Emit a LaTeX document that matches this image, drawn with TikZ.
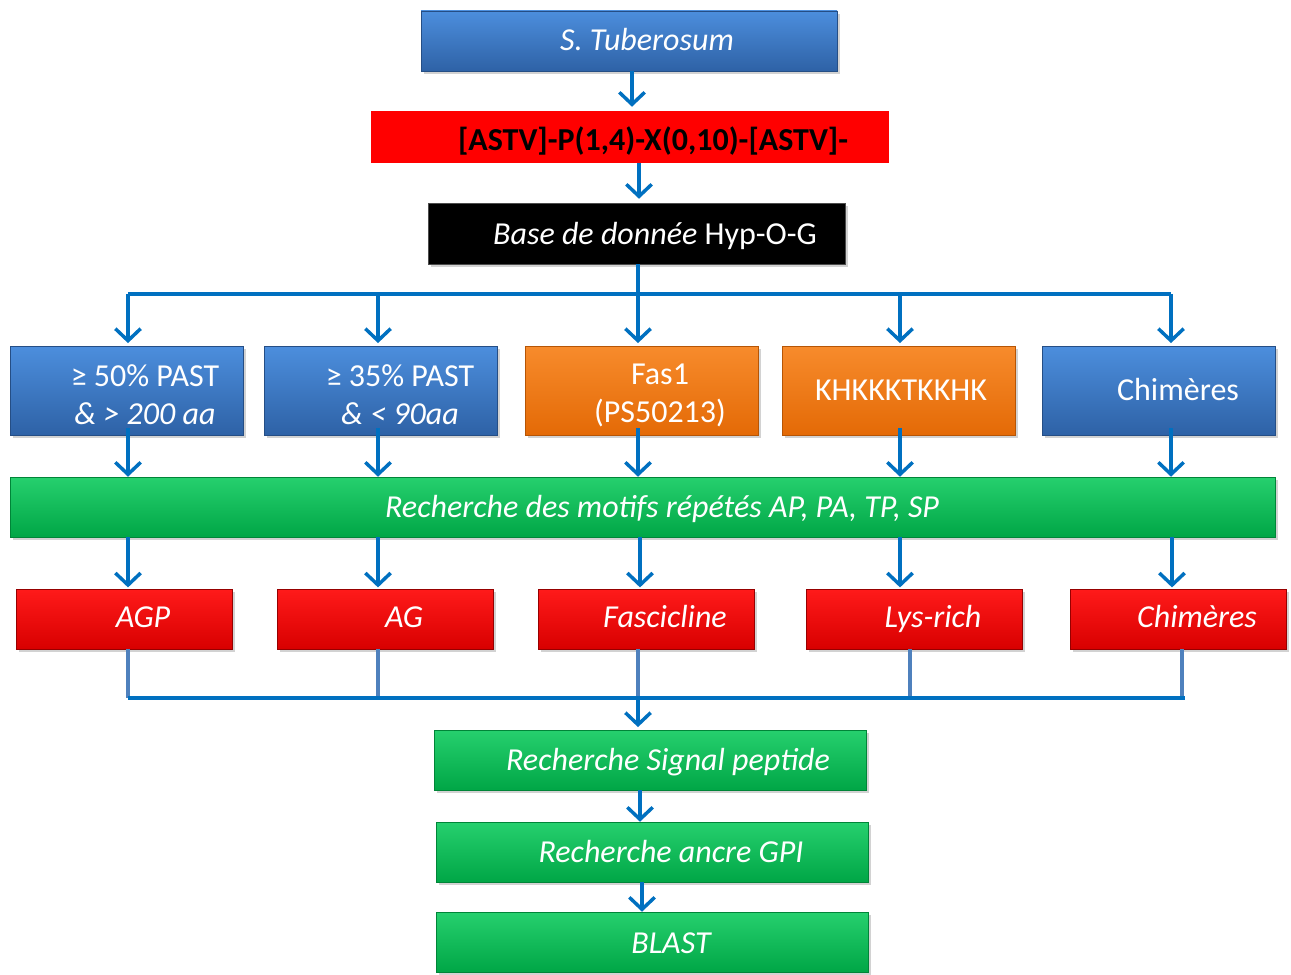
\documentclass[tikz,border=0pt]{standalone}
\usepackage{fontspec}
\setmainfont{Carlito}
\usetikzlibrary{arrows.meta,shadows,calc}
\definecolor{arrblue}{HTML}{0070C0}
\definecolor{thinblue}{HTML}{4F81BD}
\definecolor{bTop}{HTML}{4C8EDD}
\definecolor{bBot}{HTML}{2E62A6}
\definecolor{oTop}{HTML}{F78B2C}
\definecolor{oBot}{HTML}{E46A06}
\definecolor{gTop}{HTML}{26D06E}
\definecolor{gBot}{HTML}{00A646}
\definecolor{rTop}{HTML}{FF1A1A}
\definecolor{rBot}{HTML}{D80000}
\begin{document}
\begin{tikzpicture}[x=0.75pt,y=-0.75pt,
  shd/.style={drop shadow={opacity=0.35,shadow xshift=2pt,shadow yshift=-2.5pt}},
  boxbase/.style={rectangle,inner sep=0pt,shd},
  bluebox/.style={boxbase,top color=bTop,bottom color=bBot,draw=bBot!80!black,line width=0.4pt},
  orangebox/.style={boxbase,top color=oTop,bottom color=oBot,draw=oBot!80!black,line width=0.4pt},
  greenbox/.style={boxbase,top color=gTop,bottom color=gBot,draw=gBot!80!black,line width=0.4pt},
  redbox/.style={boxbase,top color=rTop,bottom color=rBot,draw=rBot!70!black,line width=0.4pt},
  blackbox/.style={boxbase,fill=black,draw=black!70,line width=0.4pt},
  wide/.style={minimum width=312pt,minimum height=45pt},
  rowtwo/.style={minimum width=174.75pt,minimum height=66.75pt},
  rowred/.style={minimum width=162pt,minimum height=45pt},
  txt/.style={inner sep=0pt,text=white,font=\fontsize{24}{28}\selectfont,text height=15.4pt,text depth=0pt},
  itxt/.style={txt,font=\fontsize{24}{28}\selectfont\itshape},
  arr/.style={draw=arrblue,line width=3pt,-{Straight Barb[length=9pt,width=19pt,line width=2.6pt]}},
  busline/.style={draw=arrblue,line width=3pt},
  thinline/.style={draw=thinblue,line width=2.3pt}]
\useasboundingbox (0,0) rectangle (1291,974);
\fill[white] (0,0) rectangle (1291,974);

% top chain
\node[bluebox,wide] (st) at (629,41) {};
\node[itxt] (stt) at (647,40) {S. Tuberosum};
\node[rectangle,inner sep=0pt,fill=red,minimum width=388.5pt,minimum height=39pt] (motif) at (630,137) {};
\node[txt,text=black,font=\fontsize{24}{28}\selectfont\bfseries] (motift) at (653,140) {[ASTV]-P(1,4)-X(0,10)-[ASTV]-};
\node[blackbox,minimum width=312.75pt,minimum height=45.75pt] (base) at (636.5,233.5) {};
\node[txt] (baset) at (655,234) {\textit{Base de donnée} Hyp-O-G};

% row 2
\node[bluebox,rowtwo] (b1) at (126.5,390.5) {};
\node[bluebox,rowtwo] (b2) at (380.5,390.5) {};
\node[orangebox,rowtwo] (b3) at (641.5,390.5) {};
\node[orangebox,rowtwo] (b4) at (898.5,390.5) {};
\node[bluebox,rowtwo] (b5) at (1158.5,390.5) {};
\node[txt] (b1a) at (145,376) {≥ 50\% PAST};
\node[itxt] (b1b) at (145,414) {\& > 200 aa};
\node[txt] (b2a) at (400,376) {≥ 35\% PAST};
\node[itxt] (b2b) at (400,414) {\& < 90aa};
\node[txt] (b3a) at (660,374) {Fas1};
\node[txt] (b3b) at (660,412) {(PS50213)};
\node[txt] (b4a) at (901,390) {KHKKKTKKHK};
\node[txt] (b5a) at (1178,390) {Chimères};

% green bar
\node[greenbox,minimum width=948.75pt,minimum height=45pt] (gbar) at (642.5,507) {};
\node[itxt] (gbart) at (662,507) {Recherche des motifs répétés AP, PA, TP, SP};

% red row
\node[redbox,rowred] (r1) at (124,619) {};
\node[redbox,rowred] (r2) at (385,619) {};
\node[redbox,rowred] (r3) at (646,619) {};
\node[redbox,rowred] (r4) at (914.5,619) {};
\node[redbox,rowred] (r5) at (1178,619) {};
\node[itxt] (r1t) at (143,617) {AGP};
\node[itxt] (r2t) at (404,617) {AG};
\node[itxt] (r3t) at (665,617) {Fascicline};
\node[itxt] (r4t) at (933,617) {Lys-rich};
\node[itxt] (r5t) at (1197,617) {Chimères};

% bottom chain
\node[greenbox,minimum width=324pt,minimum height=45pt] (sig) at (650,760) {};
\node[itxt] (sigt) at (668,760) {Recherche Signal peptide};
\node[greenbox,minimum width=324pt,minimum height=45pt] (gpi) at (652,852) {};
\node[itxt] (gpit) at (671,852) {Recherche ancre GPI};
\node[greenbox,minimum width=324pt,minimum height=45pt] (blast) at (652,942) {};
\node[itxt] (blastt) at (671,943) {BLAST};

% coordinates
\coordinate (a1) at (632,71);
\coordinate (a2) at (639,163);
\coordinate (t1) at (128,294);
\coordinate (t2) at (378,294);
\coordinate (t3) at (638,294);
\coordinate (t4) at (900,294);
\coordinate (t5) at (1171,294);
\coordinate (u1) at (128,428);
\coordinate (u2) at (378,428);
\coordinate (u3) at (638,428);
\coordinate (u4) at (900,428);
\coordinate (u5) at (1171,428);
\coordinate (v1) at (128,537);
\coordinate (v2) at (378,537);
\coordinate (v3) at (640,537);
\coordinate (v4) at (900,537);
\coordinate (v5) at (1172,537);
\coordinate (w1) at (128,698);
\coordinate (w2) at (378,698);
\coordinate (w3) at (638,698);
\coordinate (w4) at (910,698);
\coordinate (w5) at (1182,698);
\coordinate (wend) at (1185,698);
\coordinate (s1) at (640,790);
\coordinate (s2) at (642,882);

% connectors
\draw[arr,shorten >=3pt] (a1 |- st.south) -- (a1 |- motif.north);
\draw[arr,shorten >=3pt] (a2 |- motif.south) -- (a2 |- base.north);
\draw[busline] (t3 |- base.south) -- (t3);
\draw[busline] (t1) -- (t5);
\foreach \i in {1,...,5}{
  \draw[arr,shorten >=2pt] (t\i) -- (t\i |- b\i.north);
  \draw[arr] (u\i) -- (u\i |- gbar.north);
  \draw[arr,shorten >=1pt] (v\i) -- (v\i |- r\i.north);
  \draw[thinline] (w\i |- r\i.south) -- (w\i);
}
\draw[busline] (w1) -- (wend);
\draw[arr,shorten >=2pt] (w3) -- (w3 |- sig.north);
\draw[arr] (s1 |- sig.south) -- (s1 |- gpi.north);
\draw[arr] (s2 |- gpi.south) -- (s2 |- blast.north);
\end{tikzpicture}
\end{document}
